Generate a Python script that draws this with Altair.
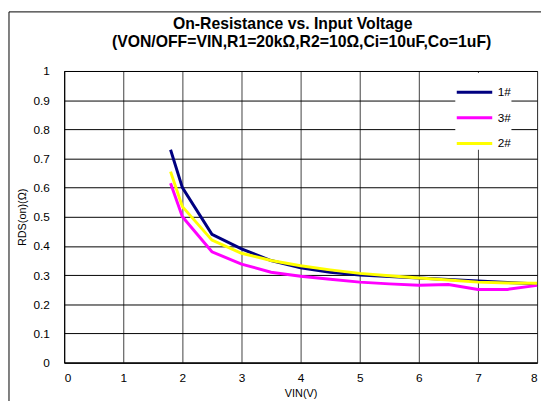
import altair as alt
import pandas as pd

vin = [1.8, 2, 2.5, 3, 3.5, 4, 4.5, 5, 5.5, 6, 6.5, 7, 7.5, 8]
r_1 = [0.73, 0.60, 0.44, 0.39, 0.35, 0.325, 0.31, 0.30, 0.295, 0.29, 0.285, 0.28, 0.275, 0.27]
r_3 = [0.615, 0.50, 0.38, 0.338, 0.31, 0.296, 0.286, 0.276, 0.27, 0.265, 0.268, 0.251, 0.251, 0.265]
r_2 = [0.655, 0.535, 0.42, 0.375, 0.35, 0.332, 0.318, 0.306, 0.298, 0.29, 0.283, 0.276, 0.273, 0.272]
series = ["1#", "3#", "2#"]
colors = ["#000080", "#FF00FF", "#FFFF00"]
x_ticks = [0, 1, 2, 3, 4, 5, 6, 7, 8]
y_ticks = [0, 0.1, 0.2, 0.3, 0.4, 0.5, 0.6, 0.7, 0.8, 0.9, 1.0]
title_lines = ["On-Resistance vs. Input Voltage",
               "(VON/OFF=VIN,R1=20kΩ,R2=10Ω,Ci=10uF,Co=1uF)"]

rows = []
for name, vals in zip(series, [r_1, r_3, r_2]):
    for xv, yv in zip(vin, vals):
        rows.append({"VIN": xv, "R": yv, "Device": name})
df = pd.DataFrame(rows)

x_enc = alt.X("VIN:Q", scale=alt.Scale(domain=[0, 8], nice=False),
              axis=alt.Axis(values=x_ticks, format="d", title="VIN(V)", ticks=False,
                            labelPadding=10, labelFontSize=12, gridColor="#404040",
                            titleX=240, titleY=36, titleBaseline="bottom",
                            titleFontSize=11, titleFontWeight="normal"))
y_enc = alt.Y("R:Q", scale=alt.Scale(domain=[0, 1], nice=False),
              axis=alt.Axis(values=y_ticks, format=".1~f", title="RDS(on)(Ω)", ticks=False,
                            labelPadding=15, labelFontSize=12, gridColor="#000000",
                            titleX=-42, titleY=148, titleAngle=270, titleAlign="center",
                            titleBaseline="middle", titleFontSize=11, titleFontWeight="normal"))
color = alt.Color("Device:N", scale=alt.Scale(domain=series, range=colors),
                  legend=alt.Legend(title=None, orient="none", legendX=397, legendY=2,
                                    fillColor="white", padding=0, symbolType="stroke",
                                    symbolSize=1296, symbolStrokeWidth=3, labelFontSize=12,
                                    rowPadding=-21, labelOffset=4))

base = alt.Chart(df)
layers = []
for name in series:
    layers.append(
        base.transform_filter(alt.datum.Device == name)
        .mark_line(strokeWidth=3)
        .encode(x=x_enc, y=y_enc, color=color)
    )

deco_df = pd.DataFrame({"a": [0]})
frame_left = alt.Chart(deco_df).mark_rule(color="black", strokeWidth=1).encode(
    x=alt.value(-56), y=alt.value(-60), y2=alt.value(340))
frame_top = alt.Chart(deco_df).mark_rule(color="black", strokeWidth=1).encode(
    x=alt.value(-56), x2=alt.value(490), y=alt.value(-60))
title1 = alt.Chart(deco_df).mark_text(
    text=title_lines[0], fontSize=16, fontWeight="bold", align="center",
    baseline="alphabetic", color="black").encode(x=alt.value(232), y=alt.value(-43))
title2 = alt.Chart(deco_df).mark_text(
    text=title_lines[1], fontSize=16, fontWeight="bold", align="center",
    baseline="alphabetic", color="black").encode(x=alt.value(241), y=alt.value(-24))

chart = alt.layer(*layers, frame_left, frame_top, title1, title2).properties(
    width=480, height=296,
    autosize=alt.AutoSizeParams(type="none"),
    padding={"left": 57, "top": 61, "right": 4, "bottom": 36},
).configure(font="Liberation Sans").configure_view(
    stroke="black", strokeWidth=1
).configure_axis(
    domainColor="black", gridOpacity=1, gridWidth=1, labelColor="black", titleColor="black"
).configure_legend(labelColor="black")

chart.save("out.html", embed_options={"renderer": "svg", "actions": False})
